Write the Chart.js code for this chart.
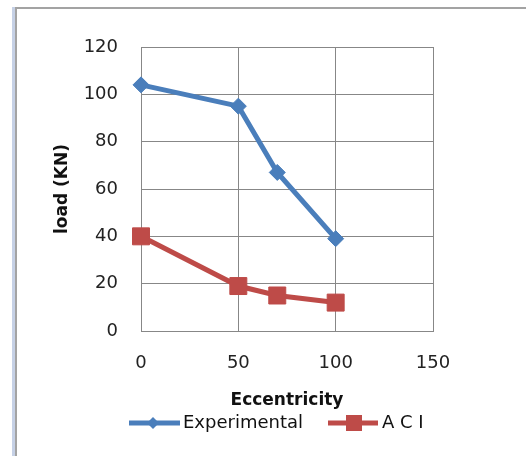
<!DOCTYPE html>
<html>
<head>
<meta charset="utf-8">
<script src="https://cdn.jsdelivr.net/npm/chart.js@4"></script>
<style>
  html, body { margin: 0; padding: 0; background: #fff; }
  body { width: 526px; height: 456px; position: relative; overflow: hidden; font-family: 'DejaVu Sans', sans-serif; }
  .frame-strip { position: absolute; left: 12px; top: 7px; width: 3px; bottom: 0; background: #c6d1e6; }
  .frame { position: absolute; left: 15px; top: 7px; right: 0; bottom: 0; border-top: 2px solid #a3a3a3; border-left: 2px solid #a3a3a3; }
  #chart { position: absolute; left: 0; top: 0; }
  .legend { position: absolute; top: 411px; left: 129px; display: flex; align-items: center; font-size: 18px; color: #111; }
  .legend span { display: inline-flex; align-items: center; }
  .legend svg { display: block; }
</style>
</head>
<body>
<div class="frame-strip"></div>
<div class="frame"></div>
<canvas id="chart" width="526" height="456"></canvas>
<div class="legend">
  <span><svg width="51" height="20"><line x1="0" y1="11" x2="51" y2="11" stroke="#4a7ebb" stroke-width="5"/><polygon points="24,5 30,11 24,17 18,11" fill="#4a7ebb"/></svg><span style="margin-left:3px">Experimental</span></span>
  <span style="margin-left:25px"><svg width="50" height="20"><line x1="0" y1="11" x2="50" y2="11" stroke="#be4b48" stroke-width="5"/><rect x="18" y="3" width="16" height="16" fill="#be4b48"/></svg><span style="margin-left:4px">A C I</span></span>
</div>
<script>
// ── Load vs eccentricity ─────────────────────────────────────────────────────
const eccentricity = [0, 50, 70, 100];
const experimental = [104, 95, 67, 39];
const aci          = [40, 19, 15, 12];
const xTicks       = [0, 50, 100, 150];
const yTicks       = [0, 20, 40, 60, 80, 100, 120];

const gridColor = '#878787';
const tickFont  = { family: 'DejaVu Sans', size: 18 };
const titleFont = { family: 'DejaVu Sans', size: 17, weight: 'bold' };

new Chart(document.getElementById('chart'), {
  type: 'line',
  data: {
    datasets: [
      {
        label: 'Experimental',
        data: eccentricity.map((x, i) => ({ x, y: experimental[i] })),
        borderColor: '#4a7ebb',
        backgroundColor: '#4a7ebb',
        borderWidth: 5,
        pointStyle: 'rectRot',
        pointRadius: 8,
        pointBorderWidth: 1,
        tension: 0,
        clip: false,
      },
      {
        label: 'A C I',
        data: eccentricity.map((x, i) => ({ x, y: aci[i] })),
        borderColor: '#be4b48',
        backgroundColor: '#be4b48',
        borderWidth: 5,
        pointStyle: 'rect',
        pointRadius: 12,
        pointBorderWidth: 1,
        tension: 0,
        clip: false,
      },
    ],
  },
  options: {
    responsive: false,
    animation: false,
    layout: { padding: { left: 52, top: 47, right: 93, bottom: 45 } },
    plugins: {
      legend: { display: false },
      tooltip: { enabled: false },
    },
    scales: {
      x: {
        type: 'linear',
        min: 0,
        max: 150,
        afterBuildTicks: s => { s.ticks = xTicks.map(v => ({ value: v })); },
        afterFit: s => { s.height = 80; },
        grid: { color: gridColor, drawTicks: false },
        border: { color: gridColor },
        ticks: { color: '#222', font: tickFont, padding: 22 },
        title: { display: true, text: 'Eccentricity', color: '#111', font: titleFont, padding: 0 },
      },
      y: {
        type: 'linear',
        min: 0,
        max: 120,
        afterBuildTicks: s => { s.ticks = yTicks.map(v => ({ value: v })); },
        afterFit: s => { s.width = 89; },
        grid: { color: gridColor, drawTicks: false },
        border: { color: gridColor },
        ticks: { color: '#222', font: tickFont, padding: 23 },
        title: { display: true, text: 'load (KN)', color: '#111', font: titleFont, padding: 0 },
      },
    },
  },
});
</script>
</body>
</html>
